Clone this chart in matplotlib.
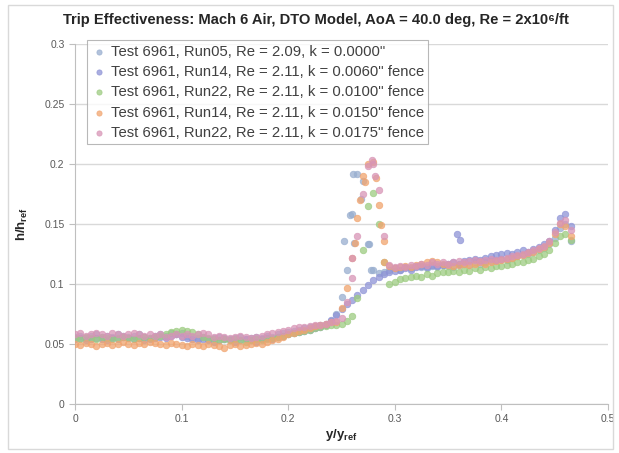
import numpy as np
import matplotlib
matplotlib.use("Agg")
import matplotlib.pyplot as plt
from matplotlib.patches import Rectangle

plt.rcParams['font.family'] = ['Liberation Sans', 'DejaVu Sans']
plt.rcParams['mathtext.fontset'] = 'custom'
plt.rcParams['mathtext.rm'] = 'Liberation Sans'
plt.rcParams['mathtext.bf'] = 'Liberation Sans:bold'

# measurement stations y/y_ref
x_grid = [0.000, 0.005, 0.010, 0.015, 0.020, 0.025, 0.030, 0.035, 0.040, 0.045,
          0.050, 0.055, 0.060, 0.065, 0.070, 0.075, 0.080, 0.085, 0.090, 0.095,
          0.100, 0.105, 0.110, 0.115, 0.120, 0.125, 0.130, 0.135, 0.140, 0.145,
          0.150, 0.155, 0.160, 0.165, 0.170, 0.175, 0.180, 0.185, 0.190, 0.195,
          0.200, 0.205, 0.210, 0.215, 0.220, 0.225, 0.230, 0.235, 0.240, 0.245,
          0.250, 0.255, 0.260, 0.265, 0.270, 0.275, 0.280, 0.285, 0.290, 0.295,
          0.300, 0.305, 0.310, 0.315, 0.320, 0.325, 0.330, 0.335, 0.340, 0.345,
          0.350, 0.355, 0.360, 0.365, 0.370, 0.375, 0.380, 0.385, 0.390, 0.395,
          0.400, 0.405, 0.410, 0.415, 0.420, 0.425, 0.430, 0.435, 0.440, 0.445,
          0.450, 0.455, 0.460, 0.465]

run05_k0000 = [0.056, 0.057, 0.055, 0.057, 0.058, 0.056, 0.057, 0.056, 0.058, 0.057,
               0.056, 0.057, 0.058, 0.056, 0.055, 0.057, 0.058, 0.057, 0.059, 0.058,
               0.059, 0.057, 0.056, 0.055, 0.056, 0.054, 0.055, 0.056, 0.055, 0.054,
               0.055, 0.056, 0.054, 0.055, 0.056, 0.055, 0.057, 0.056, 0.058, 0.059,
               0.060, 0.061, 0.062, 0.063, 0.064, 0.065, 0.066, 0.067, 0.069, 0.075,
               0.089, 0.112, 0.158, 0.192, 0.186, 0.133, 0.112, 0.109, 0.110, 0.112,
               0.113, 0.112, 0.114, 0.113, 0.115, 0.114, 0.113, 0.115, 0.114, 0.116,
               0.115, 0.114, 0.116, 0.117, 0.116, 0.118, 0.117, 0.118, 0.119, 0.120,
               0.121, 0.120, 0.122, 0.123, 0.124, 0.125, 0.127, 0.128, 0.130, 0.133,
               0.138, 0.147, 0.150, 0.136]

run14_k0060 = [0.054, 0.055, 0.053, 0.054, 0.055, 0.054, 0.053, 0.055, 0.054, 0.056,
               0.055, 0.054, 0.055, 0.053, 0.054, 0.055, 0.056, 0.055, 0.057, 0.058,
               0.056, 0.055, 0.054, 0.053, 0.054, 0.053, 0.052, 0.053, 0.054, 0.053,
               0.052, 0.053, 0.054, 0.053, 0.052, 0.054, 0.055, 0.054, 0.056, 0.057,
               0.058, 0.059, 0.060, 0.061, 0.062, 0.063, 0.064, 0.066, 0.070, 0.074,
               0.079, 0.083, 0.087, 0.091, 0.095, 0.099, 0.103, 0.106, 0.108, 0.110,
               0.111, 0.112, 0.113, 0.112, 0.114, 0.115, 0.114, 0.116, 0.115, 0.116,
               0.117, 0.118, 0.117, 0.119, 0.120, 0.121, 0.120, 0.122, 0.123, 0.124,
               0.125, 0.126, 0.125, 0.127, 0.128, 0.127, 0.129, 0.131, 0.133, 0.136,
               0.145, 0.155, 0.158, 0.148]

run22_k0100 = [0.055, 0.054, 0.056, 0.055, 0.054, 0.056, 0.055, 0.054, 0.055, 0.056,
               0.055, 0.054, 0.055, 0.056, 0.055, 0.056, 0.057, 0.058, 0.060, 0.061,
               0.062, 0.061, 0.060, 0.058, 0.056, 0.055, 0.054, 0.053, 0.054, 0.053,
               0.054, 0.053, 0.052, 0.053, 0.054, 0.053, 0.054, 0.055, 0.056, 0.057,
               0.058, 0.059, 0.060, 0.061, 0.062, 0.063, 0.064, 0.065, 0.066, 0.066,
               0.067, 0.069, 0.073, 0.088, 0.128, 0.165, 0.176, 0.150, 0.118, 0.100,
               0.102, 0.104, 0.105, 0.106, 0.107, 0.106, 0.108, 0.107, 0.109, 0.110,
               0.110, 0.111, 0.110, 0.112, 0.111, 0.113, 0.112, 0.114, 0.113, 0.115,
               0.115, 0.116, 0.117, 0.118, 0.118, 0.120, 0.121, 0.123, 0.125, 0.128,
               0.134, 0.140, 0.142, 0.137]

run14_k0150 = [0.050, 0.049, 0.051, 0.050, 0.048, 0.050, 0.051, 0.049, 0.050, 0.052,
               0.050, 0.049, 0.051, 0.050, 0.052, 0.051, 0.050, 0.049, 0.051, 0.050,
               0.049, 0.048, 0.050, 0.049, 0.048, 0.050, 0.049, 0.048, 0.047, 0.049,
               0.050, 0.048, 0.049, 0.050, 0.051, 0.050, 0.052, 0.053, 0.054, 0.056,
               0.058, 0.059, 0.061, 0.062, 0.063, 0.065, 0.066, 0.067, 0.068, 0.068,
               0.080, 0.097, 0.122, 0.155, 0.190, 0.200, 0.202, 0.166, 0.136, 0.115,
               0.113, 0.114, 0.115, 0.114, 0.116, 0.117, 0.118, 0.119, 0.118, 0.117,
               0.116, 0.115, 0.116, 0.117, 0.116, 0.117, 0.118, 0.117, 0.118, 0.119,
               0.120, 0.121, 0.122, 0.123, 0.124, 0.126, 0.127, 0.129, 0.131, 0.134,
               0.142, 0.150, 0.148, 0.140]

run22_k0175 = [0.058, 0.059, 0.057, 0.058, 0.059, 0.058, 0.057, 0.059, 0.058, 0.057,
               0.058, 0.059, 0.058, 0.057, 0.058, 0.057, 0.058, 0.056, 0.057, 0.058,
               0.057, 0.058, 0.057, 0.058, 0.059, 0.058, 0.056, 0.057, 0.056, 0.055,
               0.056, 0.057, 0.056, 0.055, 0.056, 0.057, 0.058, 0.059, 0.060, 0.061,
               0.062, 0.063, 0.064, 0.064, 0.065, 0.066, 0.066, 0.067, 0.068, 0.069,
               0.072, 0.085, 0.105, 0.140, 0.175, 0.198, 0.200, 0.178, 0.140, 0.116,
               0.114, 0.115, 0.114, 0.116, 0.115, 0.117, 0.116, 0.118, 0.117, 0.118,
               0.117, 0.118, 0.119, 0.118, 0.119, 0.120, 0.119, 0.120, 0.121, 0.120,
               0.121, 0.122, 0.123, 0.124, 0.125, 0.127, 0.128, 0.130, 0.132, 0.136,
               0.143, 0.151, 0.153, 0.145]

# extra scattered points in the transition spike
extra_x_run05 = [0.2528, 0.2577, 0.2606, 0.2620, 0.2680, 0.2755, 0.2780]
extra_y_run05 = [0.136, 0.1575, 0.192, 0.134, 0.171, 0.133, 0.112]
extra_x_run14a = [0.3585, 0.3615]
extra_y_run14a = [0.142, 0.137]
extra_x_run14b = [0.2625, 0.2675, 0.2725, 0.2825, 0.2875, 0.2895]
extra_y_run14b = [0.134, 0.170, 0.185, 0.188, 0.149, 0.118]
extra_x_run22b = [0.2595, 0.2785, 0.2815]
extra_y_run22b = [0.122, 0.203, 0.190]

labels = ['Test 6961, Run05, Re = 2.09, k = 0.0000"',
          'Test 6961, Run14, Re = 2.11, k = 0.0060" fence',
          'Test 6961, Run22, Re = 2.11, k = 0.0100" fence',
          'Test 6961, Run14, Re = 2.11, k = 0.0150" fence',
          'Test 6961, Run22, Re = 2.11, k = 0.0175" fence']
colors = ['#98AECF', '#8E93D6', '#9CCB80', '#F1A46E', '#D895B6']

series = [(run05_k0000, extra_x_run05, extra_y_run05),
          (run14_k0060, extra_x_run14a, extra_y_run14a),
          (run22_k0100, [], []),
          (run14_k0150, extra_x_run14b, extra_y_run14b),
          (run22_k0175, extra_x_run22b, extra_y_run22b)]

fig = plt.figure(figsize=(6.19, 4.53), dpi=100)
ax = fig.add_axes([0.1212, 0.1082, 0.8610, 0.7947])

for (yv, ex, ey), col, lab in zip(series, colors, labels):
    xs = list(x_grid) + list(ex)
    ys = list(yv) + list(ey)
    ax.scatter(xs, ys, s=22, color=col, alpha=0.75, edgecolors=col,
               linewidths=0.6, label=lab, zorder=3)

ax.set_xlim(0, 0.5)
ax.set_ylim(0, 0.3)
ax.set_xticks([0, 0.1, 0.2, 0.3, 0.4, 0.5])
ax.set_xticklabels(['0', '0.1', '0.2', '0.3', '0.4', '0.5'])
ax.set_yticks([0, 0.05, 0.1, 0.15, 0.2, 0.25, 0.3])
ax.set_yticklabels(['0', '0.05', '0.1', '0.15', '0.2', '0.25', '0.3'])
ax.yaxis.grid(True, color='#D9D9D9', linewidth=1.0)
ax.set_axisbelow(True)
for side in ['top', 'right']:
    ax.spines[side].set_visible(False)
for side in ['left', 'bottom']:
    ax.spines[side].set_color('#BFBFBF')
ax.tick_params(axis='both', colors='#BFBFBF', labelcolor='#595959',
               labelsize=7.5, length=4, direction='out')

leg = ax.legend(loc='upper left', bbox_to_anchor=(0.022, 1.01), borderaxespad=0,
                fontsize=10.7, frameon=True, fancybox=False, handletextpad=0.3,
                handlelength=1.0, borderpad=0.3, labelspacing=0.42,
                markerscale=0.8)
leg.get_frame().set_edgecolor('#A6A6A6')
leg.get_frame().set_linewidth(0.8)
for t in leg.get_texts():
    t.set_color('#404040')

fig.text(0.511, 0.955, 'Trip Effectiveness: Mach 6 Air, DTO Model, AoA = 40.0 deg, Re = 2x10\u2076/ft',
         ha='center', va='center', fontsize=10.6, fontweight='bold', color='#262626')
fig.text(0.037, 0.5055, r'$\mathbf{h/h_{ref}}$', rotation=90, ha='center', va='center',
         fontsize=9.5, color='#262626')
fig.text(0.551, 0.040, r'$\mathbf{y/y_{ref}}$', ha='center', va='center',
         fontsize=9.5, color='#262626')

fig.patches.append(Rectangle((0.013, 0.009), 0.977, 0.980, transform=fig.transFigure,
                             fill=False, edgecolor='#D9D9D9', linewidth=1.0))

fig.savefig('out.png', dpi=100)
